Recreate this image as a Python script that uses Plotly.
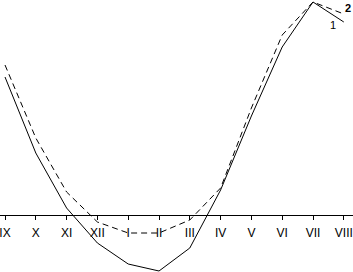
import plotly.graph_objects as go

months = ["IX", "X", "XI", "XII", "I", "II", "III", "IV", "V", "VI", "VII", "VIII"]
series1 = [138, 62, 7, -28, -49, -56, -33, 25, 99, 168, 213, 193]
series2 = [150, 77, 23, -7, -18, -18, -5, 27, 107, 180, 213, 201]

W, H = 353, 272
idx = list(range(len(months)))

fig = go.Figure()
fig.add_trace(go.Scatter(x=idx, y=series1, mode="lines",
                         line=dict(color="black", width=1), showlegend=False, hoverinfo="skip"))
fig.add_trace(go.Scatter(x=idx, y=series2, mode="lines",
                         line=dict(color="black", width=1, dash="6px,4px"), showlegend=False,
                         hoverinfo="skip"))

fig.add_annotation(x=11.15, y=207, xref="x", yref="y", text="<b>2</b>", showarrow=False,
                   font=dict(size=11, color="black", family="Liberation Sans, Arial"))
fig.add_annotation(x=10.65, y=190, xref="x", yref="y", text="1", showarrow=False,
                   font=dict(size=11, color="black", family="Liberation Sans, Arial"))

x0 = -5 / 30.8
x1 = (W - 5) / 30.8
fig.update_layout(
    width=W, height=H,
    margin=dict(l=0, r=0, t=0, b=0, pad=0, autoexpand=False),
    paper_bgcolor="white", plot_bgcolor="white",
    font=dict(family="Liberation Sans, Arial", size=12, color="black"),
    xaxis=dict(range=[x0, x1], tickmode="array", tickvals=idx, ticktext=months,
               showgrid=False, zeroline=False, showline=True, linecolor="black", linewidth=1,
               ticks="outside", ticklen=4, tickcolor="black", tickwidth=1,
               anchor="free", position=57 / 272, automargin=False,
               ticklabeloverflow="allow", ticklabelstandoff=3, fixedrange=True),
    yaxis=dict(range=[-57, 215], visible=False, showgrid=False, zeroline=False,
               automargin=False, fixedrange=True),
)
fig.write_html("out.html", config={"displayModeBar": False, "staticPlot": True},
               post_script="document.body.style.margin='0';document.body.style.overflow='hidden';")
